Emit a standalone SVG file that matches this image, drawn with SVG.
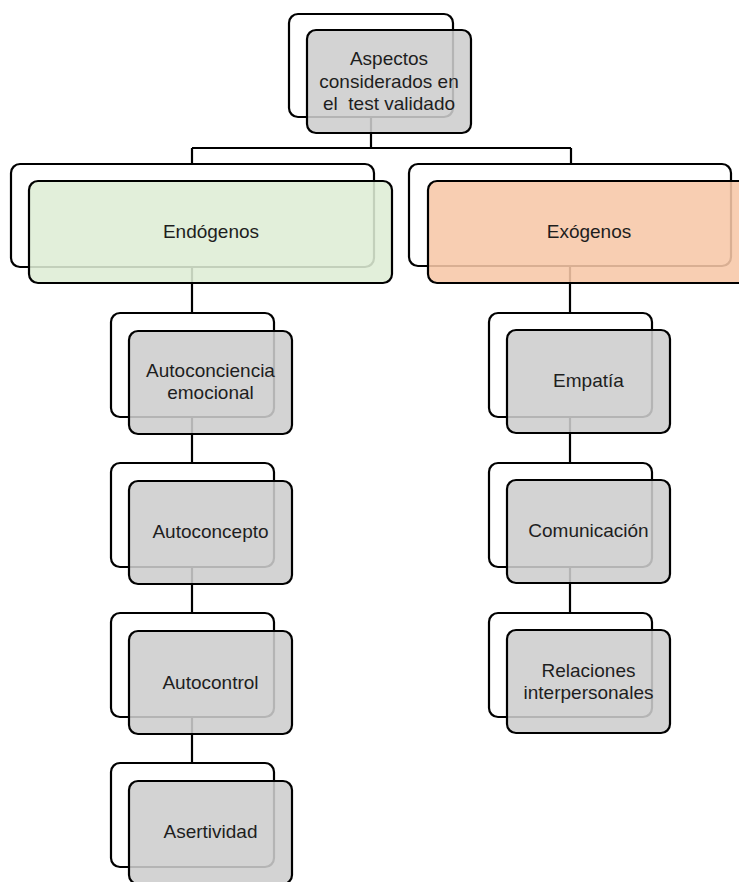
<svg xmlns="http://www.w3.org/2000/svg" width="739" height="882" viewBox="0 0 739 882">
<style>
.back{fill:#ffffff;stroke:#000;stroke-width:2.2}
.front{stroke:#000;stroke-width:2.2;fill-opacity:0.88}
.gray{fill:#cdcdcd}
.green{fill:#deedd5}
.peach{fill:#f7c7a7}
.conn{stroke:#000;stroke-width:2.2;fill:none}
text{font-family:"Liberation Sans",Arial,sans-serif;font-size:19px;fill:#1e1e1e;text-anchor:middle;white-space:pre}
</style>
<rect width="739" height="882" fill="#ffffff"/>
<g id="connectors">
<path class="conn" d="M371,117 V148 M192,148 H571 M192,148 V164 M571,148 V164"/>
<path class="conn" d="M192,267 V313 M192,417 V463 M192,567 V613 M192,717 V763"/>
<path class="conn" d="M570,266 V313 M570,417 V463 M570,567 V613"/>
</g>
<g id="node-root">
<rect class="back" x="289" y="14" width="164" height="103" rx="9"/>
<rect class="front gray" x="307" y="30" width="164" height="103" rx="9"/>
<text x="389" y="65">Aspectos</text>
<text x="389" y="87.5">considerados en</text>
<text x="389" y="110">el  test validado</text>
</g>
<g id="node-endogenos">
<rect class="back" x="11" y="164" width="363" height="103" rx="9"/>
<rect class="front green" x="29" y="181" width="363" height="102" rx="9"/>
<text x="211" y="238">Endógenos</text>
</g>
<g id="node-exogenos">
<rect class="back" x="409" y="164" width="322" height="102" rx="9"/>
<rect class="front peach" x="428" y="181" width="322" height="102" rx="9"/>
<text x="589" y="238">Exógenos</text>
</g>
<g id="node-autoconciencia">
<rect class="back" x="111" y="313" width="163" height="104" rx="9"/>
<rect class="front gray" x="129" y="331" width="163" height="103" rx="9"/>
<text x="210.5" y="377">Autoconciencia</text>
<text x="210.5" y="399">emocional</text>
</g>
<g id="node-autoconcepto">
<rect class="back" x="111" y="463" width="163" height="104" rx="9"/>
<rect class="front gray" x="129" y="481" width="163" height="103" rx="9"/>
<text x="210.5" y="538">Autoconcepto</text>
</g>
<g id="node-autocontrol">
<rect class="back" x="111" y="613" width="163" height="104" rx="9"/>
<rect class="front gray" x="129" y="631" width="163" height="103" rx="9"/>
<text x="210.5" y="689">Autocontrol</text>
</g>
<g id="node-asertividad">
<rect class="back" x="111" y="763" width="163" height="104" rx="9"/>
<rect class="front gray" x="129" y="781" width="163" height="103" rx="9"/>
<text x="210.5" y="838">Asertividad</text>
</g>
<g id="node-empatia">
<rect class="back" x="489" y="313" width="163" height="104" rx="9"/>
<rect class="front gray" x="507" y="330" width="163" height="103" rx="9"/>
<text x="588.5" y="387">Empatía</text>
</g>
<g id="node-comunicacion">
<rect class="back" x="489" y="463" width="163" height="104" rx="9"/>
<rect class="front gray" x="507" y="480" width="163" height="103" rx="9"/>
<text x="588.5" y="537">Comunicación</text>
</g>
<g id="node-relaciones">
<rect class="back" x="489" y="613" width="163" height="104" rx="9"/>
<rect class="front gray" x="507" y="630" width="163" height="103" rx="9"/>
<text x="588.5" y="677">Relaciones</text>
<text x="588.5" y="699">interpersonales</text>
</g>
</svg>
